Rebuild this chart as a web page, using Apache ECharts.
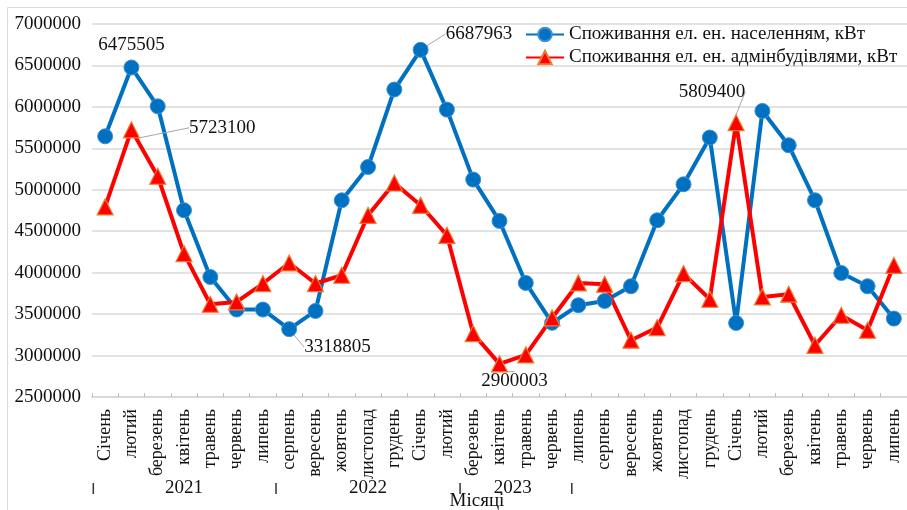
<!DOCTYPE html>
<html>
<head>
<meta charset="utf-8">
<script src="https://cdn.jsdelivr.net/npm/echarts@6/dist/echarts.min.js"></script>
<style>
  html, body { margin: 0; padding: 0; background: #fff; }
  #main { width: 907px; height: 510px; }
</style>
</head>
<body>
<div id="main"></div>
<script>
// місяці по осі X (2021 – 2023)
const months = [
  'Січень', 'лютий', 'березень', 'квітень', 'травень', 'червень', 'липень',
  'серпень', 'вересень', 'жовтень', 'листопад', 'грудень',
  'Січень', 'лютий', 'березень', 'квітень', 'травень', 'червень', 'липень',
  'серпень', 'вересень', 'жовтень', 'листопад', 'грудень',
  'Січень', 'лютий', 'березень', 'квітень', 'травень', 'червень', 'липень'
];
const years = ['2021', '2022', '2023'];

// споживання населенням, кВт
const population = [
  5645000, 6475505, 6007000, 4753000, 3948000, 3555000, 3555000,
  3318805, 3538000, 4873000, 5275000, 6209000,
  6687963, 5967000, 5123000, 4624000, 3876000, 3395000, 3607000,
  3659000, 3836000, 4632000, 5066000, 5630000,
  3393000, 5951000, 5537000, 4873000, 3996000, 3836000, 3446000
];
// споживання адмінбудівлями, кВт
const adminBuildings = [
  4793000, 5723100, 5163000, 4230000, 3619000, 3647000, 3869000,
  4117000, 3869000, 3969000, 4692000, 5082000,
  4813000, 4451000, 3265000, 2900003, 3008000, 3454000, 3876000,
  3860000, 3185000, 3338000, 3989000, 3679000,
  5809400, 3707000, 3740000, 3124000, 3486000, 3305000, 4089000
];

const yTicks = { min: 2500000, max: 7000000, step: 500000 };

// підписані точки: індекс -> [позиція, dx, dy, виноска]
const popLabels = { 1: ['top', 0, 0, false], 7: ['right', 2, 18, true], 12: ['right', 12, -16, true] };
const admLabels = { 1: ['right', 44, -2, true], 15: ['bottom', 15, -6, true], 24: ['top', -24, -8, true] };

// розташування підписів років (у одиницях категорій)
const yearAt = [3, 10, 15.5];
const yearBreaks = [-0.45, 6.5, 13.5, 17.75];

const FONT = '"Liberation Serif", "Times New Roman", serif';
const TXT = '#111';

function withLabels(values, marks) {
  return values.map((v, i) => {
    if (!marks[i]) return v;
    return {
      value: v,
      label: { show: true, position: marks[i][0] },
      labelLine: { show: marks[i][3] }
    };
  });
}

const chart = echarts.init(document.getElementById('main'));

chart.setOption({
  animation: false,
  textStyle: { fontFamily: FONT },
  grid: { left: 92, right: -5, top: 24, bottom: 113, containLabel: false },
  legend: {
    orient: 'vertical',
    left: 520,
    top: 20,
    itemWidth: 38,
    itemHeight: 17,
    itemGap: 4,
    textStyle: { fontFamily: FONT, fontSize: 19, color: TXT, lineHeight: 18 },
    data: ['Споживання ел. ен. населенням, кВт', 'Споживання ел. ен. адмінбудівлями, кВт']
  },
  xAxis: {
    type: 'category',
    data: months,
    boundaryGap: true,
    axisLine: { lineStyle: { color: '#d9d9d9', width: 2 } },
    axisTick: { show: true, inside: true, length: 4, lineStyle: { color: '#bfbfbf' } },
    axisLabel: {
      interval: 0, rotate: 90, margin: 12,
      fontFamily: FONT, fontSize: 18, color: TXT
    }
  },
  yAxis: {
    type: 'value',
    min: yTicks.min,
    max: yTicks.max,
    interval: yTicks.step,
    axisLine: { show: false },
    axisTick: { show: false },
    axisLabel: {
      margin: 11, fontFamily: FONT, fontSize: 19, color: TXT,
      formatter: v => String(v)
    },
    splitLine: { lineStyle: { color: '#d9d9d9', width: 1.5 } }
  },
  series: [
    {
      name: 'Споживання ел. ен. населенням, кВт',
      type: 'line',
      data: withLabels(population, popLabels),
      symbol: 'circle',
      symbolSize: 15,
      lineStyle: { color: '#0070c0', width: 4 },
      itemStyle: { color: '#0070c0', borderColor: '#3d8fd6', borderWidth: 1 },
      label: { show: false, fontFamily: FONT, fontSize: 19, color: TXT },
      labelLine: { show: true, lineStyle: { color: '#a6a6a6', width: 1 } },
      labelLayout: p => {
        const m = popLabels[p.dataIndex];
        return m ? { dx: m[1], dy: m[2] } : {};
      }
    },
    {
      name: 'Споживання ел. ен. адмінбудівлями, кВт',
      type: 'line',
      data: withLabels(adminBuildings, admLabels),
      symbol: 'triangle',
      symbolSize: 16,
      lineStyle: { color: '#ff0000', width: 4 },
      itemStyle: { color: '#ff0000', borderColor: '#ed7d31', borderWidth: 1.2 },
      label: { show: false, fontFamily: FONT, fontSize: 19, color: TXT },
      labelLine: { show: true, lineStyle: { color: '#a6a6a6', width: 1 } },
      labelLayout: p => {
        const m = admLabels[p.dataIndex];
        return m ? { dx: m[1], dy: m[2] } : {};
      }
    }
  ]
});

// підписи років та роздільники під місяцями
const x0 = chart.convertToPixel({ xAxisIndex: 0 }, 0);
const x1 = chart.convertToPixel({ xAxisIndex: 0 }, 1);
const catX = i => x0 + (x1 - x0) * i;

const graphics = [
  {
    type: 'rect', silent: true, z: -1,
    shape: { x: 7.5, y: 7.5, width: 1000, height: 1000 },
    style: { fill: 'none', stroke: '#d9d9d9', lineWidth: 1 }
  },
  {
    type: 'text', silent: true,
    x: 477, y: 501,
    style: { text: 'Місяці', font: '19px ' + FONT, fill: TXT, align: 'center', verticalAlign: 'middle' }
  }
];
years.forEach((y, k) => {
  graphics.push({
    type: 'text', silent: true,
    x: catX(yearAt[k]), y: 488,
    style: { text: y, font: '19px ' + FONT, fill: TXT, align: 'center', verticalAlign: 'middle' }
  });
});
yearBreaks.forEach(b => {
  graphics.push({
    type: 'line', silent: true,
    shape: { x1: catX(b), y1: 483, x2: catX(b), y2: 494 },
    style: { stroke: '#333', lineWidth: 1.5 }
  });
});
chart.setOption({ graphic: graphics });
</script>
</body>
</html>
